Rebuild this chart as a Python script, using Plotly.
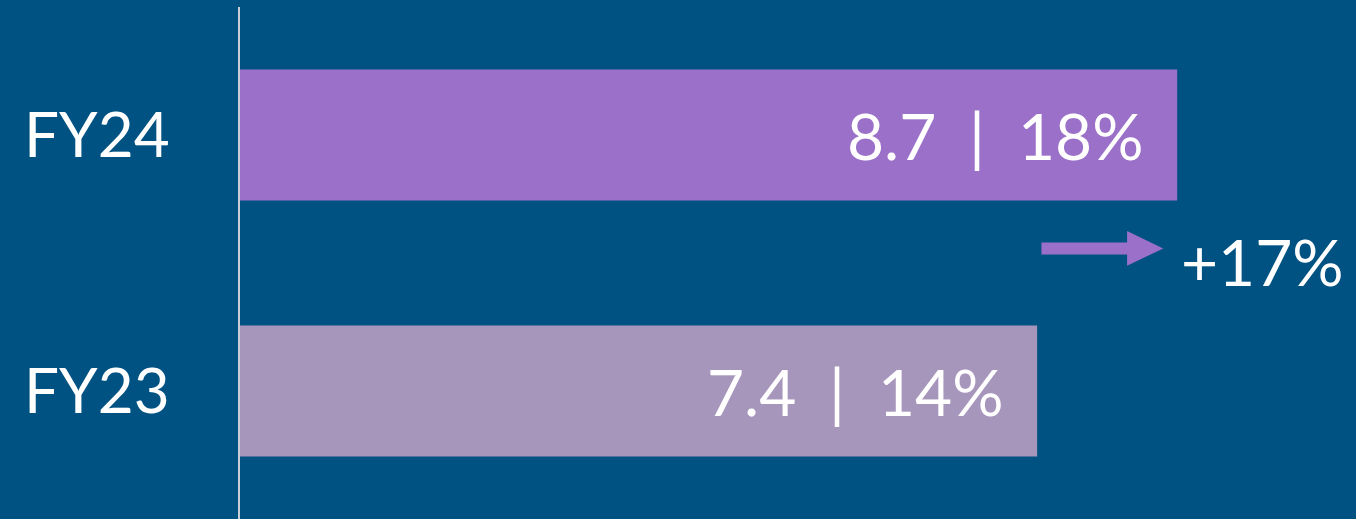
import plotly.graph_objects as go

categories = ["FY23", "FY24"]
values = [7.4, 8.7]
shares = ["14%", "18%"]
bar_colors = ["#A796BC", "#9B70C8"]
growth_label = "+17%"

BG = "#005283"
FONT = "Lato"
FS = 64

fig = go.Figure()
fig.add_trace(go.Bar(
    y=categories, x=values, orientation="h",
    marker=dict(color=bar_colors, line=dict(width=0)),
    width=0.512, hoverinfo="skip",
))

for c, v, s in zip(categories, values, shares):
    fig.add_annotation(x=v, y=c, xref="x", yref="y", text=f"{v}\u00a0 |\u00a0 {s}",
                       showarrow=False, xanchor="right", xshift=-32,
                       font=dict(family=FONT, size=FS, color="white"))

# growth arrow between the bars, from FY23 value towards FY24 value
x0 = values[0] + 0.04
x_tip = values[1] - 0.13
head_len = 0.335
yc = 0.557
sh = 0.0234
hh = 0.068
path = (f"M {x0},{yc-sh} L {x_tip-head_len},{yc-sh} L {x_tip-head_len},{yc-hh} "
        f"L {x_tip},{yc} L {x_tip-head_len},{yc+hh} L {x_tip-head_len},{yc+sh} "
        f"L {x0},{yc+sh} Z")
fig.add_shape(type="path", path=path, xref="x", yref="y",
              fillcolor=bar_colors[1], line=dict(width=0))
fig.add_annotation(x=values[1], y=0.5, xref="x", yref="y", text=growth_label,
                   showarrow=False, xanchor="left", xshift=2, yshift=2,
                   font=dict(family=FONT, size=FS, color="white"))

fig.update_layout(
    width=1356, height=519,
    margin=dict(l=240, r=0, t=7, b=0),
    paper_bgcolor=BG, plot_bgcolor=BG,
    showlegend=False,
    xaxis=dict(range=[0, 10.36], visible=False, fixedrange=True),
    yaxis=dict(range=[-0.5, 1.5], showline=True, linecolor="#C9CDD6", linewidth=2,
               showgrid=False, zeroline=False, ticks="",
               tickfont=dict(family=FONT, size=62, color="white"),
               ticklabelstandoff=56, fixedrange=True),
)

fig.write_html("out.html", config={"displayModeBar": False},
               post_script="document.body.style.margin='0';document.body.style.background='%s';" % BG)
